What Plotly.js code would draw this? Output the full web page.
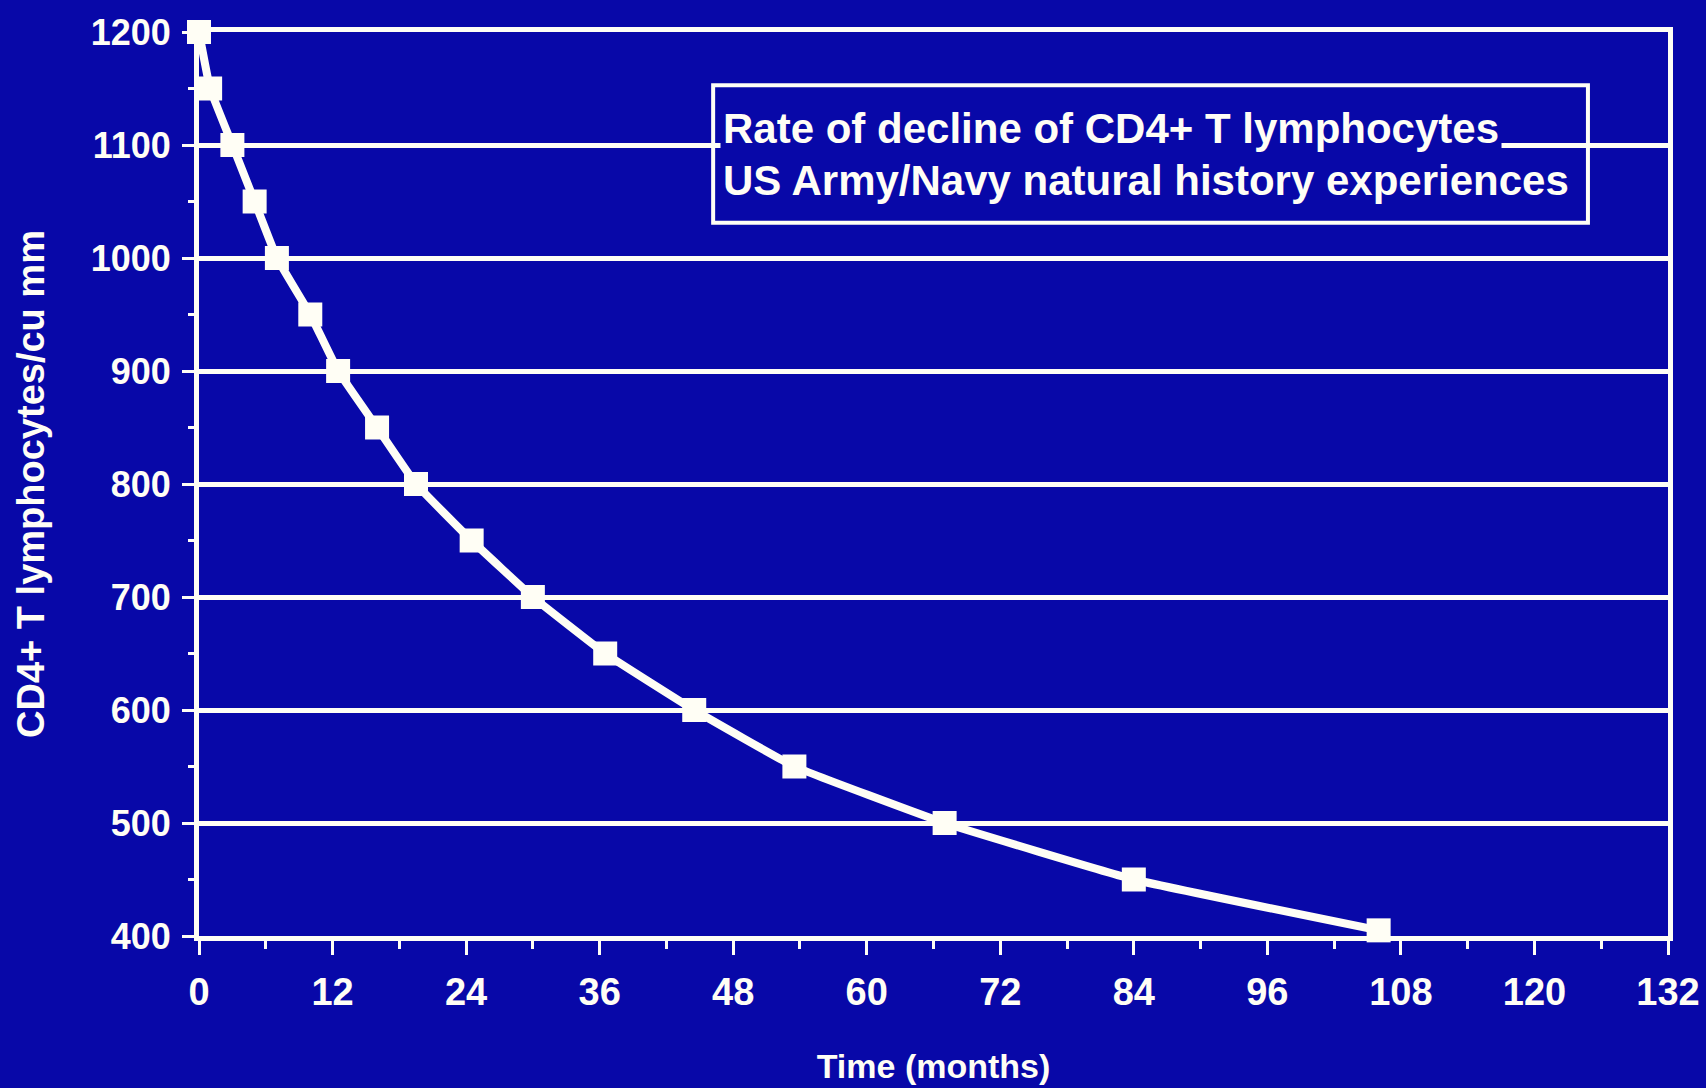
<!DOCTYPE html>
<html>
<head>
<meta charset="utf-8">
<script src="https://cdn.plot.ly/plotly-3.0.1.min.js"></script>
<style>
  html, body { margin: 0; padding: 0; background: #0808a8; }
  #chart { width: 1706px; height: 1088px; }
</style>
</head>
<body>
<div id="chart"></div>
<script>
// ---- Data ----
const months = [0, 1, 3, 5, 7, 10, 12.5, 16, 19.5, 24.5, 30, 36.5, 44.5, 53.5, 67, 84, 106];
const cd4Counts = [1200, 1150, 1100, 1050, 1000, 950, 900, 850, 800, 750, 700, 650, 600, 550, 500, 450, 405];

const legendLine1 = "Rate of decline of CD4+ T lymphocytes";
const legendLine2 = "US Army/Navy natural history experiences";
const xTitle = "Time (months)";
const yTitle = "CD4+ T lymphocytes/cu mm";

// ---- Style ----
const BG = "#0808a8";
const FG = "#fffef5";
const FAMILY = "Liberation Sans, Arial, Helvetica, sans-serif";

const trace = {
  x: months,
  y: cd4Counts,
  type: "scatter",
  mode: "lines+markers",
  line: { color: FG, width: 8, shape: "spline", smoothing: 0.3 },
  marker: { symbol: "square", size: 24, color: FG },
  cliponaxis: false,
  showlegend: false,
  hoverinfo: "x+y"
};

const layout = {
  width: 1706,
  height: 1088,
  margin: { l: 199, r: 38, t: 32, b: 152 },
  paper_bgcolor: BG,
  plot_bgcolor: BG,
  font: { family: FAMILY, color: FG, weight: "bold" },
  showlegend: false,
  xaxis: {
    range: [0, 132],
    tick0: 0,
    dtick: 12,
    showgrid: false,
    zeroline: false,
    showline: true,
    mirror: true,
    linecolor: FG,
    linewidth: 5,
    ticks: "outside",
    ticklen: 14,
    tickwidth: 3,
    tickcolor: FG,
    minor: { dtick: 6, ticks: "outside", ticklen: 8, tickwidth: 3, tickcolor: FG, showgrid: false },
    tickfont: { family: FAMILY, size: 38, color: FG, weight: "bold" },
    ticklabelstandoff: 4,
    title: { text: xTitle, font: { family: FAMILY, size: 34, color: FG, weight: "bold" }, standoff: 44 },
    automargin: false,
    fixedrange: true
  },
  yaxis: {
    range: [400, 1200],
    tick0: 400,
    dtick: 100,
    showgrid: true,
    gridcolor: FG,
    gridwidth: 5,
    zeroline: false,
    showline: true,
    mirror: true,
    linecolor: FG,
    linewidth: 5,
    ticks: "outside",
    ticklen: 12,
    tickwidth: 3,
    tickcolor: FG,
    minor: { dtick: 50, ticks: "outside", ticklen: 6, tickwidth: 3, tickcolor: FG, showgrid: false },
    tickfont: { family: FAMILY, size: 36, color: FG, weight: "bold" },
    ticklabelstandoff: 4,
    title: { text: yTitle, font: { family: FAMILY, size: 38, color: FG, weight: "bold" }, standoff: 36 },
    automargin: false,
    fixedrange: true
  },
  shapes: [
    {
      type: "rect", xref: "paper", yref: "paper", layer: "above",
      x0: 0.35, x1: 0.9455, y0: 0.789, y1: 0.941,
      line: { color: FG, width: 4 }, fillcolor: "rgba(0,0,0,0)"
    }
  ],
  annotations: [
    {
      text: legendLine1, xref: "paper", yref: "paper",
      x: 0.355, y: 0.8938, xanchor: "left", yanchor: "middle",
      showarrow: false, bgcolor: BG, borderpad: 2,
      font: { family: FAMILY, size: 42, color: FG, weight: "bold" }
    },
    {
      text: legendLine2, xref: "paper", yref: "paper",
      x: 0.355, y: 0.836, xanchor: "left", yanchor: "middle",
      showarrow: false, bgcolor: BG, borderpad: 2,
      font: { family: FAMILY, size: 42, color: FG, weight: "bold" }
    }
  ]
};

Plotly.newPlot("chart", [trace], layout, { displayModeBar: false, staticPlot: true });
</script>
</body>
</html>
